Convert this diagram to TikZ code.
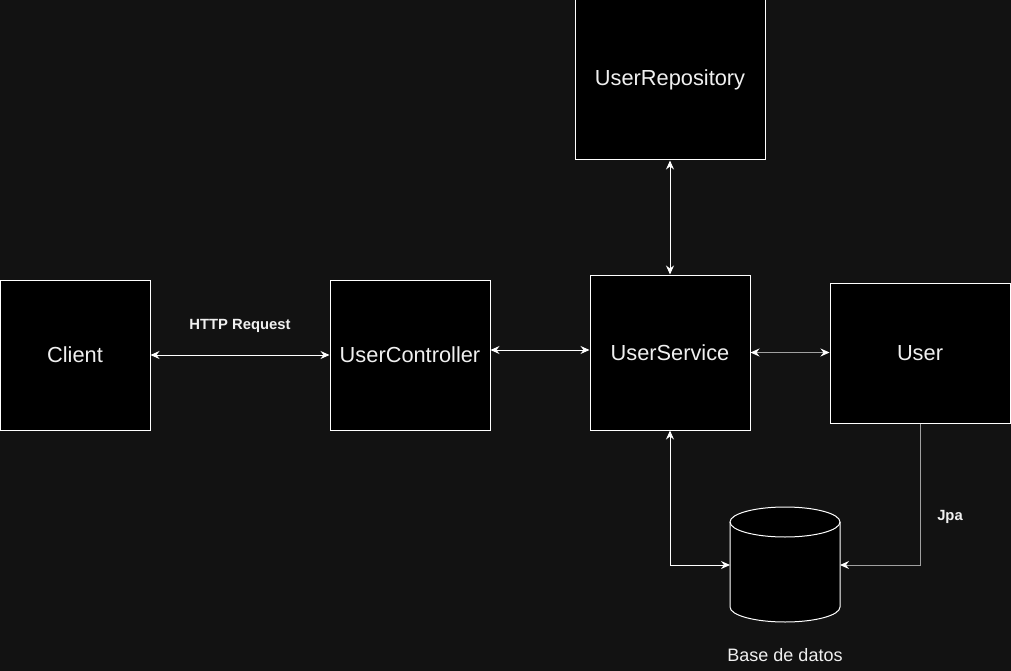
\documentclass[tikz,border=0pt]{standalone}
\usepackage{fontspec}
\setmainfont{Liberation Sans}
\usetikzlibrary{arrows.meta}
\definecolor{bg}{HTML}{121212}
\definecolor{txt}{HTML}{F0F0F0}
\definecolor{grayline}{HTML}{A0A0A0}
\tikzset{
  box/.style={draw=white, fill=black, line width=1pt, text=txt, font=\fontsize{21.8}{26}\selectfont, inner sep=0pt},
  tipstyle/.tip={Stealth[length=9pt,width=8pt,inset=3pt,color=white]},
  conn/.style={draw=white, line width=1pt, tipstyle-tipstyle},
  connend/.style={draw=white, line width=1pt, -tipstyle},
  lbl/.style={text=txt, font=\bfseries\fontsize{14.8}{17}\selectfont}
}
\begin{document}
\begin{tikzpicture}[x=1pt,y=-1pt]
\fill[bg] (0,0) rectangle (1011,671);
\useasboundingbox (0,0) rectangle (1011,671);

\node[box, minimum width=150pt, minimum height=150pt] (client) at (75,355) {Client};
\node[box, minimum width=160pt, minimum height=150pt] (ctrl) at (410,355) {UserController};
\node[box, minimum width=160pt, minimum height=155pt] (svc) at (670,352.5) {UserService};
\node[box, minimum width=190pt, minimum height=160pt] (repo) at (670,80) {UserRepository};
\node[box, minimum width=180pt, minimum height=140pt] (user) at (920,353) {User};

% database cylinder
\fill[black] (730,522) -- (730,607) arc[start angle=180,end angle=360,x radius=55pt,y radius=15pt] -- (840,522) arc[start angle=0,end angle=180,x radius=55pt,y radius=15pt] -- cycle;
\draw[white, line width=1pt] (730,522) -- (730,607) arc[start angle=180,end angle=360,x radius=55pt,y radius=15pt] -- (840,522);
\draw[white, line width=1pt] (785,522) ellipse[x radius=55pt,y radius=15pt];
\coordinate (dbl) at (730,565);
\coordinate (dbr) at (840,565);
\node[text=txt, font=\fontsize{18}{21}\selectfont] (dblabel) at (785,655) {Base de datos};

% connectors
\draw[conn] (client.east) -- (ctrl.west);
\node[lbl] (http) at (240,326) {HTTP Request};
\draw[conn] ([yshift=5pt]ctrl.east) -- ([yshift=5pt]ctrl.east -| svc.west);
\draw[conn] (repo.south) -- (svc.north);
\draw[conn, draw=grayline] (svc.east) -- (svc.east -| user.west);
\draw[conn] (svc.south) |- (dbl);
\draw[connend, draw=grayline] (user.south) |- (dbr);
\node[lbl] (jpa) at (950,517) {Jpa};
\end{tikzpicture}
\end{document}
